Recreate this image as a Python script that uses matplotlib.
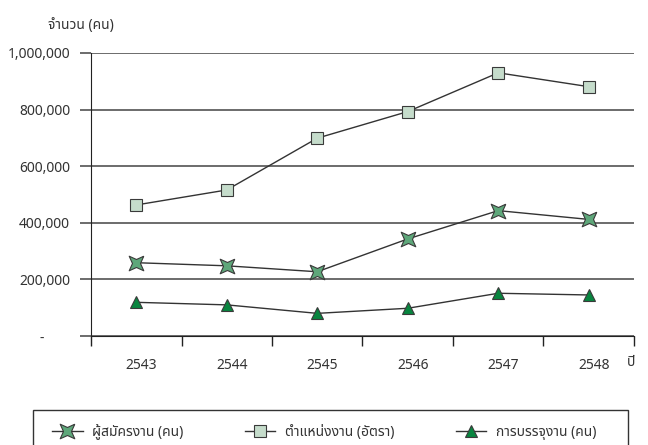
import matplotlib
matplotlib.use("Agg")
import matplotlib.pyplot as plt
import matplotlib.transforms as mtransforms
from matplotlib.patches import Rectangle
import numpy as np

plt.rcParams['font.family'] = ['Noto Sans Thai', 'DejaVu Sans']

# ข้อมูล (อ่านค่าจากกราฟ)
years = ['2543', '2544', '2545', '2546', '2547', '2548']
applicants = [259000, 248000, 227000, 343000, 443000, 412000]     # ผู้สมัครงาน (คน)
positions = [463000, 516000, 699000, 793000, 930000, 881000]      # ตำแหน่งงาน (อัตรา)
placements = [119000, 110000, 80000, 98000, 151000, 145000]       # การบรรจุงาน (คน)
y_ticks = [0, 200000, 400000, 600000, 800000, 1000000]
y_labels = ['-       ', '200,000', '400,000', '600,000', '800,000', '1,000,000']

# ดาวสี่แฉกแบบในกราฟต้นฉบับ
r = 0.55
star4 = [(1, 1), (0, r), (-1, 1), (-r, 0), (-1, -1), (0, -r), (1, -1), (r, 0), (1, 1)]

fig = plt.figure(figsize=(6.48, 4.45), dpi=100)
ax = fig.add_axes([91 / 648, 1 - 336 / 445, (634 - 91) / 648, (336 - 53) / 445])

x = np.arange(len(years))
line_kw = dict(color='#333333', linewidth=1.0, markeredgecolor='#3a3a3a', markeredgewidth=0.8)
ax.plot(x, applicants, marker=star4, markersize=10.5, markerfacecolor='#5ea77a',
        label='ผู้สมัครงาน (คน)', zorder=4, **line_kw)
ax.plot(x, positions, marker='s', markersize=8.3, markerfacecolor='#c5dccb',
        label='ตำแหน่งงาน (อัตรา)', zorder=4, **line_kw)
ax.plot(x, placements, marker='^', markersize=9, markerfacecolor='#08853f',
        label='การบรรจุงาน (คน)', zorder=4, **line_kw)

ax.set_xlim(-0.5, len(years) - 0.5)
ax.set_ylim(0, 1000000)

# เส้นแบ่งแกน y
ax.set_yticks(y_ticks)
ax.set_yticklabels(y_labels)
ax.yaxis.grid(True, color='#444444', linewidth=1.1)
ax.set_axisbelow(True)
ax.tick_params(axis='y', length=8, width=1.1, color='#444444', pad=7,
               labelsize=10, labelcolor='#333333')

# ขีดแกน x อยู่ที่ขอบหมวด ป้ายอยู่กลางหมวด
ax.set_xticks(np.arange(-0.5, len(years)), labels=[''] * (len(years) + 1))
ax.set_xticks(x, labels=years, minor=True)
ax.tick_params(axis='x', which='major', length=7, width=1.0, color='#222222', direction='out')
ax.tick_params(axis='x', which='minor', length=0, pad=16, labelsize=10, labelcolor='#333333')
shift = mtransforms.ScaledTranslation(5 / 100, 0, fig.dpi_scale_trans)
for lbl in ax.get_xticklabels(minor=True):
    lbl.set_transform(lbl.get_transform() + shift)

for side in ['top', 'right']:
    ax.spines[side].set_visible(False)
ax.spines['left'].set_color('#222222')
ax.spines['bottom'].set_color('#222222')

fig.text(48 / 648, 1 - 25 / 445, 'จำนวน (คน)', ha='left', va='center', fontsize=10, color='#333333')
fig.text(627 / 648, 1 - 362 / 445, 'ปี', ha='left', va='center', fontsize=10, color='#333333')

# กรอบคำอธิบาย (ขอบล่างเลยขอบภาพ)
fig.patches.append(Rectangle((33 / 648, -0.05), (628 - 33) / 648, 0.05 + 1 - 410 / 445,
                             transform=fig.transFigure, fill=False, edgecolor='#333333',
                             linewidth=1.0))
leg = fig.legend(loc='center left', bbox_to_anchor=(52 / 648, 1 - 432 / 445), ncol=3,
                 fontsize=10, frameon=False, borderpad=0, borderaxespad=0,
                 handlelength=2.2, handletextpad=0.7, columnspacing=4.4)
for t in leg.get_texts():
    t.set_color('#333333')

fig.savefig("out.png", dpi=100)
